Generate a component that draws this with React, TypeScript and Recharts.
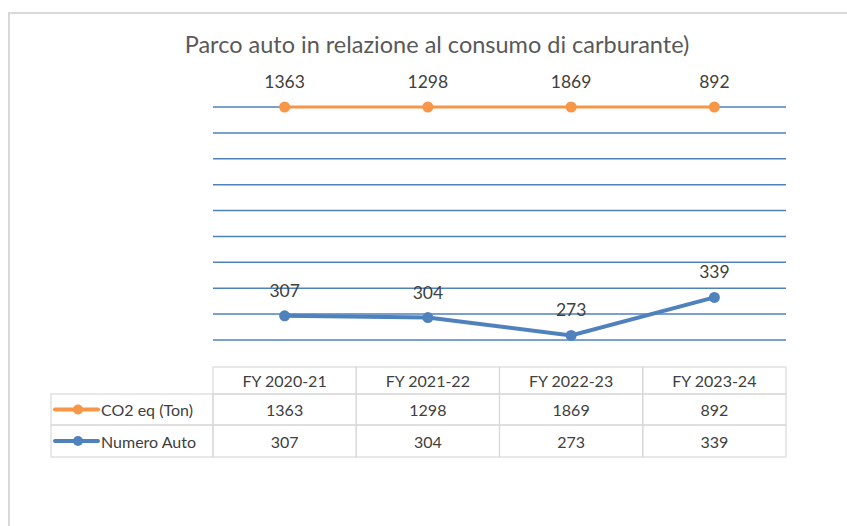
import React from 'react';
import { ComposedChart, Line, XAxis, YAxis, CartesianGrid, LabelList } from 'recharts';

const CATEGORIES = ['FY 2020-21', 'FY 2021-22', 'FY 2022-23', 'FY 2023-24'];
const CO2_TON = [1363, 1298, 1869, 892];
const NUMERO_AUTO = [307, 304, 273, 339];
const Y_TICKS = [265, 310, 355, 400, 445, 490, 535, 580, 625, 670];

const SERIES = [
  { key: 'co2', name: 'CO2 eq (Ton)', color: '#F79646', values: CO2_TON },
  { key: 'auto', name: 'Numero Auto', color: '#4F81BD', values: NUMERO_AUTO },
];

const Y_MAX = Y_TICKS[Y_TICKS.length - 1];
const FONT = 'Lato, "Open Sans", sans-serif';
const TEXT = '#404040';
const BORDER = '#D9D9D9';

const PLOT_W = 573;
const HALF_CELL = PLOT_W / CATEGORIES.length / 2;

const data = CATEGORIES.map((name, i) => ({ name, co2: CO2_TON[i], auto: NUMERO_AUTO[i] }));

// row heights of the data table under the plot
const HEADER_TOP = 27;
const ROW_H = [27, 31, 32];
const LEGEND_W = 162;

const TableTick = (props: any) => {
  const { x, y, payload, index } = props;
  const cellW = HALF_CELL * 2;
  const left = x - cellW / 2;
  const top = y + HEADER_TOP;
  const rowTops = [top, top + ROW_H[0], top + ROW_H[0] + ROW_H[1]];
  const i = index ?? CATEGORIES.indexOf(payload.value);

  return (
    <g fontFamily={FONT} fontSize={16} fill={TEXT}>
      {rowTops.map((rt, r) => (
        <rect key={r} x={left} y={rt} width={cellW} height={ROW_H[r]} fill="none" stroke={BORDER} strokeWidth={1.2} />
      ))}
      <text x={x} y={rowTops[0] + ROW_H[0] / 2} textAnchor="middle" dominantBaseline="central">
        {payload.value}
      </text>
      {SERIES.map((s, r) => (
        <text key={s.key} x={x} y={rowTops[r + 1] + ROW_H[r + 1] / 2} textAnchor="middle" dominantBaseline="central">
          {s.values[i]}
        </text>
      ))}
      {i === 0 &&
        SERIES.map((s, r) => {
          const rt = rowTops[r + 1];
          const cy = rt + ROW_H[r + 1] / 2;
          const lx = left - LEGEND_W;
          return (
            <g key={'lg' + s.key}>
              <rect x={lx} y={rt} width={LEGEND_W} height={ROW_H[r + 1]} fill="none" stroke={BORDER} strokeWidth={1.2} />
              <line x1={lx + 4} x2={lx + 47} y1={cy} y2={cy} stroke={s.color} strokeWidth={4} strokeLinecap="round" />
              <circle cx={lx + 27} cy={cy} r={5} fill={s.color} />
              <text x={lx + 50} y={cy} dominantBaseline="central">
                {s.name}
              </text>
            </g>
          );
        })}
    </g>
  );
};

export default function App() {
  return (
    <div style={{ position: 'absolute', left: 0, top: 0, width: 847, height: 526, overflow: 'hidden', background: '#fff' }}>
      {/* chart frame, runs off the right and bottom edge */}
      <div style={{ position: 'absolute', left: 8, top: 12, width: 900, height: 600, border: `2px solid ${BORDER}`, boxSizing: 'border-box' }} />
      <div
        style={{
          position: 'absolute',
          left: 0,
          width: 874,
          top: 30,
          textAlign: 'center',
          fontFamily: FONT,
          fontSize: 23.5,
          color: '#595959',
        }}
      >
        Parco auto in relazione al consumo di carburante)
      </div>
      <div style={{ position: 'absolute', left: 0, top: 0 }}>
        <ComposedChart width={847} height={526} data={data} margin={{ top: 107, right: 61, bottom: 0, left: 213 }}>
          <CartesianGrid horizontal vertical={false} stroke="#4F81BD" strokeWidth={1.5} />
          <XAxis
            dataKey="name"
            height={186}
            axisLine={false}
            tickLine={false}
            tickSize={0}
            tickMargin={0}
            interval={0}
            padding={{ left: HALF_CELL, right: HALF_CELL }}
            tick={<TableTick />}
          />
          <YAxis hide domain={[Y_TICKS[0], Y_MAX]} ticks={Y_TICKS} />
          {/* values above the axis maximum sit on the top edge, as in the source */}
          <Line
            dataKey={(d: any) => Math.min(d.co2, Y_MAX)}
            stroke="#F79646"
            strokeWidth={3}
            dot={{ r: 5.5, fill: '#F79646', stroke: '#F79646', strokeWidth: 0 }}
            isAnimationActive={false}
          >
            <LabelList dataKey="co2" position="top" offset={19} fill={TEXT} fontSize={17.5} fontFamily={FONT} />
          </Line>
          <Line
            dataKey="auto"
            stroke="#4F81BD"
            strokeWidth={4}
            dot={{ r: 5.5, fill: '#4F81BD', stroke: '#4F81BD', strokeWidth: 0 }}
            isAnimationActive={false}
          >
            <LabelList dataKey="auto" position="top" offset={19} fill={TEXT} fontSize={17.5} fontFamily={FONT} />
          </Line>
        </ComposedChart>
      </div>
    </div>
  );
}
